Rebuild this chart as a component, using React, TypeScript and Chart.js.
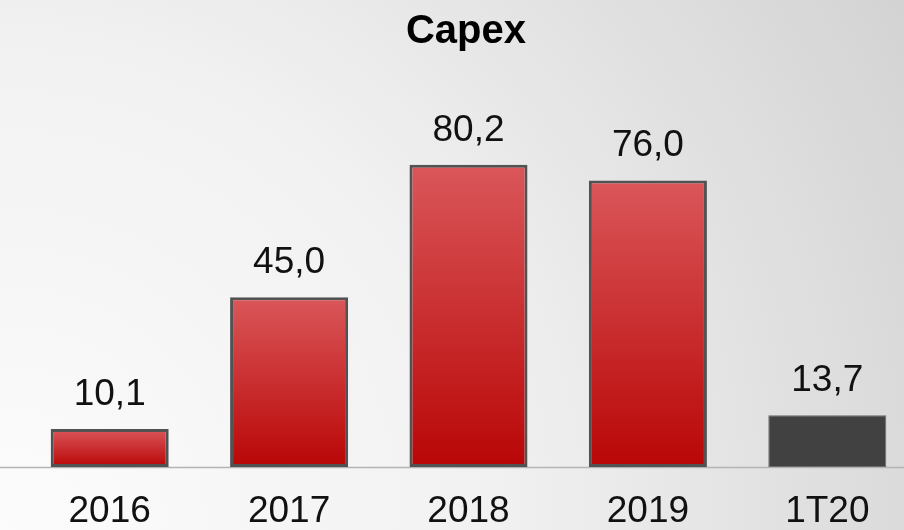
import React, { useEffect, useRef } from 'react';
import { Chart, registerables } from 'chart.js';
Chart.register(...registerables);

const chartTitle = 'Capex';
const categories = ['2016', '2017', '2018', '2019', '1T20'];
const capexValues = [10.1, 45.0, 80.2, 76.0, 13.7];
const partialPeriod = '1T20';

const FONT = '"Liberation Sans", Arial, Helvetica, sans-serif';

const fmt = (v: number) => v.toFixed(1).replace('.', ',');

export default function App() {
  const ref = useRef<HTMLCanvasElement>(null);

  useEffect(() => {
    document.body.style.margin = '0';
    document.body.style.overflow = 'hidden';
    const canvas = ref.current!;

    const decor = {
      id: 'decor',
      beforeDraw(chart: any) {
        const { ctx, width, height } = chart;
        ctx.save();
        const g = ctx.createRadialGradient(0, height, 0, 0, height, 1100);
        g.addColorStop(0, '#fcfcfc');
        g.addColorStop(0.45, '#f1f1f1');
        g.addColorStop(1, '#d0d0d0');
        ctx.fillStyle = g;
        ctx.fillRect(0, 0, width, height);
        const y = Math.round(chart.scales.y.getPixelForValue(0)) + 0.5;
        ctx.strokeStyle = '#b4b4b4';
        ctx.lineWidth = 1.5;
        ctx.beginPath();
        ctx.moveTo(0, y);
        ctx.lineTo(width, y);
        ctx.stroke();
        ctx.restore();
      },
      afterDatasetsDraw(chart: any) {
        const { ctx } = chart;
        const meta = chart.getDatasetMeta(0);
        ctx.save();
        ctx.fillStyle = '#111111';
        ctx.textAlign = 'center';
        ctx.textBaseline = 'alphabetic';
        ctx.font = `37px ${FONT}`;
        meta.data.forEach((el: any, i: number) => {
          ctx.fillText(fmt(capexValues[i]), el.x, el.y - 24);
        });
        ctx.font = `bold 40px ${FONT}`;
        ctx.fillStyle = '#000000';
        ctx.fillText(chartTitle, 466, 43);
        ctx.restore();
      },
    };

    const chart = new Chart(canvas, {
      type: 'bar',
      data: {
        labels: categories,
        datasets: [
          {
            data: capexValues,
            backgroundColor: (c: any) => {
              if (categories[c.dataIndex] === partialPeriod) return '#414141';
              const ch = c.chart;
              const ys = ch.scales && ch.scales.y;
              if (!ys || !ch.chartArea) return '#c83030';
              const top = ys.getPixelForValue(capexValues[c.dataIndex]);
              const base = ys.getPixelForValue(0);
              const g = ch.ctx.createLinearGradient(0, top, 0, base);
              g.addColorStop(0, '#da575a');
              g.addColorStop(1, '#b90606');
              return g;
            },
            borderColor: (c: any) =>
              categories[c.dataIndex] === partialPeriod ? '#6b6b6b' : '#525252',
            borderWidth: (c: any) =>
              categories[c.dataIndex] === partialPeriod ? 1 : 3,
            borderSkipped: false,
            categoryPercentage: 1,
            barPercentage: 0.658,
          },
        ],
      },
      options: {
        responsive: false,
        animation: false,
        layout: { padding: { top: 90, left: 20, right: 3, bottom: 0 } },
        plugins: {
          legend: { display: false },
          title: { display: false },
          tooltip: { enabled: false },
        },
        scales: {
          x: {
            grid: { display: false, drawTicks: false },
            border: { display: false },
            ticks: {
              color: '#111111',
              font: { family: FONT, size: 37, lineHeight: 1 },
              padding: 26,
              maxRotation: 0,
              autoSkip: false,
            },
            afterFit: (s: any) => {
              s.height = 63;
            },
          },
          y: { display: false, min: 0, max: 100 },
        },
      },
      plugins: [decor],
    });
    return () => chart.destroy();
  }, []);

  return (
    <div style={{ position: 'fixed', left: 0, top: 0, width: 904, height: 530, overflow: 'hidden' }}>
      <canvas ref={ref} width={920} height={530} style={{ width: 920, height: 530, display: 'block' }} />
    </div>
  );
}
